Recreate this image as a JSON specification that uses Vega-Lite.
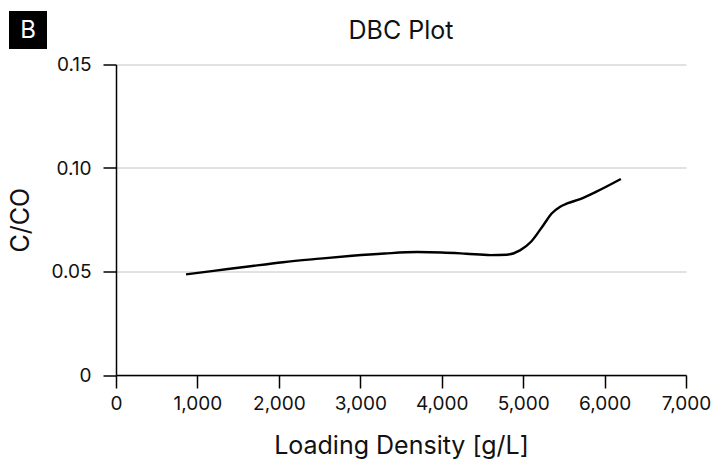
{
  "$schema": "https://vega.github.io/schema/vega-lite/v6.json",
  "autosize": {"type": "none"},
  "width": 570,
  "height": 310.5,
  "padding": {"left": 116, "top": 64.5, "right": 27, "bottom": 87},
  "background": "white",
  "config": {
    "font": "Inter",
    "view": {"stroke": null}
  },
  "title": {
    "text": "DBC Plot",
    "fontSize": 25,
    "fontWeight": "normal",
    "color": "#111111",
    "anchor": "middle",
    "offset": -33
  },
  "datasets": {
    "dbc": [
      {"load": 860, "ratio": 0.0486},
      {"load": 1200, "ratio": 0.0503},
      {"load": 1600, "ratio": 0.0523},
      {"load": 2050, "ratio": 0.0545},
      {"load": 2500, "ratio": 0.0562},
      {"load": 2900, "ratio": 0.0576},
      {"load": 3300, "ratio": 0.0587},
      {"load": 3700, "ratio": 0.0594},
      {"load": 4000, "ratio": 0.0592},
      {"load": 4300, "ratio": 0.0586},
      {"load": 4600, "ratio": 0.0579},
      {"load": 4800, "ratio": 0.0581},
      {"load": 4961, "ratio": 0.0602},
      {"load": 5100, "ratio": 0.0645},
      {"load": 5250, "ratio": 0.0725},
      {"load": 5350, "ratio": 0.0780},
      {"load": 5450, "ratio": 0.0812},
      {"load": 5550, "ratio": 0.0830},
      {"load": 5700, "ratio": 0.0850},
      {"load": 5900, "ratio": 0.0886},
      {"load": 6200, "ratio": 0.0947}
    ],
    "panel": [{"tag": "B"}]
  },
  "layer": [
    {
      "data": {"name": "dbc"},
      "mark": {"type": "line", "interpolate": "monotone", "color": "black", "strokeWidth": 2.4},
      "encoding": {
        "x": {
          "field": "load",
          "type": "quantitative",
          "scale": {"domain": [0, 7000], "nice": false},
          "axis": {
            "title": "Loading Density [g/L]",
            "values": [0, 1000, 2000, 3000, 4000, 5000, 6000, 7000],
            "labelExpr": "format(datum.value, ',')",
            "grid": false,
            "domainColor": "black",
            "domainWidth": 1.5,
            "tickColor": "black",
            "tickWidth": 1.5,
            "tickSize": 13,
            "labelFontSize": 19,
            "labelColor": "#111111",
            "labelPadding": 6,
            "labelFlush": false,
            "labelOverlap": false,
            "titleFontSize": 25,
            "titleFontWeight": "normal",
            "titleColor": "#111111",
            "titlePadding": 20
          }
        },
        "y": {
          "field": "ratio",
          "type": "quantitative",
          "scale": {"domain": [0, 0.15], "nice": false},
          "axis": {
            "title": "C/CO",
            "values": [0, 0.05, 0.1, 0.15],
            "labelExpr": "datum.value === 0 ? '0' : format(datum.value, '.2f')",
            "grid": true,
            "gridColor": "#c4c4c4",
            "gridWidth": 1,
            "domainColor": "black",
            "domainWidth": 1.5,
            "tickColor": "black",
            "tickWidth": 1.5,
            "tickSize": 13,
            "labelFontSize": 19,
            "labelColor": "#111111",
            "labelPadding": 12,
            "titleFontSize": 25,
            "titleFontWeight": "normal",
            "titleColor": "#111111",
            "titlePadding": 17
          }
        }
      }
    },
    {
      "data": {"name": "panel"},
      "mark": {"type": "rect", "color": "black", "x": -107, "x2": -69, "y": -53.5, "y2": -15.5},
      "encoding": {}
    },
    {
      "data": {"name": "panel"},
      "mark": {"type": "text", "color": "white", "fontSize": 24, "align": "center", "baseline": "middle", "x": -88, "y": -34},
      "encoding": {"text": {"field": "tag"}}
    }
  ]
}
